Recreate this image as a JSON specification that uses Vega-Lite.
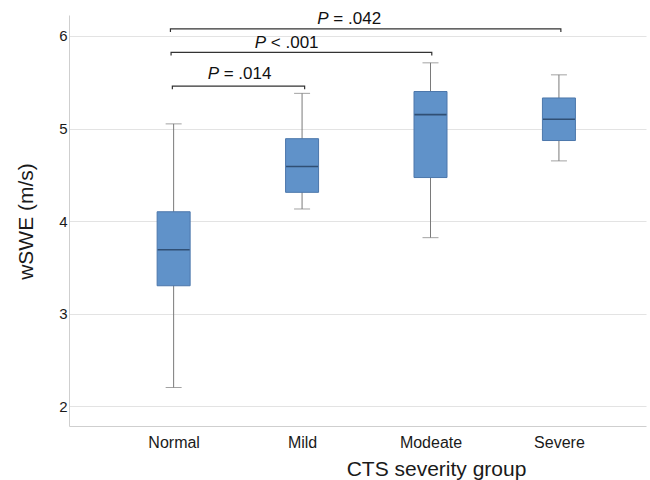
{
  "$schema": "https://vega.github.io/schema/vega-lite/v6.json",
  "width": 577,
  "height": 411,
  "autosize": {"type": "none"},
  "padding": {"left": 69, "top": 15, "right": 4, "bottom": 54},
  "background": "white",
  "config": {
    "view": {"stroke": null},
    "font": "Liberation Sans",
    "axis": {"labelFont": "Liberation Sans", "titleFont": "Liberation Sans", "labelColor": "#1a1a1a", "titleColor": "#1a1a1a", "titleFontWeight": "normal"}
  },
  "datasets": {
    "boxes": [
      {"group": "Normal", "g": 1, "min": 2.2, "q1": 3.3, "median": 3.69, "q3": 4.1, "max": 5.05},
      {"group": "Mild", "g": 2, "min": 4.13, "q1": 4.31, "median": 4.59, "q3": 4.89, "max": 5.38},
      {"group": "Modeate", "g": 3, "min": 3.82, "q1": 4.47, "median": 5.15, "q3": 5.4, "max": 5.71},
      {"group": "Severe", "g": 4, "min": 4.65, "q1": 4.87, "median": 5.1, "q3": 5.33, "max": 5.58}
    ],
    "brackets": [
      {"b": "a", "o": 1, "x": 0.99, "y": 5.425},
      {"b": "a", "o": 2, "x": 0.99, "y": 5.459},
      {"b": "a", "o": 3, "x": 2.02, "y": 5.459},
      {"b": "a", "o": 4, "x": 2.02, "y": 5.425},
      {"b": "b", "o": 1, "x": 0.98, "y": 5.79},
      {"b": "b", "o": 2, "x": 0.98, "y": 5.824},
      {"b": "b", "o": 3, "x": 3.01, "y": 5.824},
      {"b": "b", "o": 4, "x": 3.01, "y": 5.79},
      {"b": "c", "o": 1, "x": 0.975, "y": 6.042},
      {"b": "c", "o": 2, "x": 0.975, "y": 6.076},
      {"b": "c", "o": 3, "x": 4.015, "y": 6.076},
      {"b": "c", "o": 4, "x": 4.015, "y": 6.042}
    ],
    "labels": [
      {"rest": "= .014", "x": 1.265, "y": 5.538},
      {"rest": "< .001", "x": 1.632, "y": 5.874},
      {"rest": "= .042", "x": 2.119, "y": 6.13}
    ]
  },
  "layer": [
    {
      "data": {"name": "boxes"},
      "mark": {"type": "rule", "color": "#7a7a7a", "strokeWidth": 1},
      "encoding": {
        "x": {"field": "g", "type": "quantitative", "scale": {"domain": [0.2242, 4.639], "nice": false, "zero": false},
          "axis": {"values": [1, 2, 3, 4], "labelExpr": "['','Normal','Mild','Modeate','Severe'][datum.value]", "grid": false, "ticks": false, "tickSize": 0, "labelPadding": 21, "labelBaseline": "alphabetic", "labelFontSize": 16, "domainColor": "#cfcfcf", "title": "CTS severity group", "titleFontSize": 21, "titleX": 367, "titleY": 49, "titleBaseline": "alphabetic", "titleAlign": "center"}},
        "y": {"field": "min", "type": "quantitative", "scale": {"domain": [1.784, 6.227], "nice": false, "zero": false},
          "axis": {"values": [2, 3, 4, 5, 6], "format": "d", "grid": true, "gridColor": "#e3e3e3", "ticks": false, "tickSize": 0, "labelPadding": 2, "labelFontSize": 15, "domainColor": "#cfcfcf", "title": "wSWE (m/s)", "titleFontSize": 21, "titleAngle": -90, "titleX": -37, "titleY": 206, "titleBaseline": "alphabetic", "titleAlign": "center"}},
        "y2": {"field": "max"}
      }
    },
    {
      "data": {"name": "boxes"},
      "mark": {"type": "tick", "orient": "horizontal", "size": 16, "thickness": 1, "color": "#7a7a7a"},
      "encoding": {"x": {"field": "g", "type": "quantitative"}, "y": {"field": "min", "type": "quantitative"}}
    },
    {
      "data": {"name": "boxes"},
      "mark": {"type": "tick", "orient": "horizontal", "size": 16, "thickness": 1, "color": "#7a7a7a"},
      "encoding": {"x": {"field": "g", "type": "quantitative"}, "y": {"field": "max", "type": "quantitative"}}
    },
    {
      "data": {"name": "boxes"},
      "mark": {"type": "bar", "size": 33, "color": "#6092c9", "stroke": "#4c77ab", "strokeWidth": 1},
      "encoding": {"x": {"field": "g", "type": "quantitative"}, "y": {"field": "q1", "type": "quantitative"}, "y2": {"field": "q3"}}
    },
    {
      "data": {"name": "boxes"},
      "mark": {"type": "tick", "orient": "horizontal", "size": 32, "thickness": 1.6, "color": "#1c3350"},
      "encoding": {"x": {"field": "g", "type": "quantitative"}, "y": {"field": "median", "type": "quantitative"}}
    },
    {
      "data": {"name": "brackets"},
      "mark": {"type": "line", "color": "#333333", "strokeWidth": 1.2},
      "encoding": {"x": {"field": "x", "type": "quantitative"}, "y": {"field": "y", "type": "quantitative"}, "detail": {"field": "b"}, "order": {"field": "o"}}
    },
    {
      "data": {"name": "labels"},
      "mark": {"type": "text", "text": "P", "fontStyle": "italic", "fontSize": 17, "align": "left", "baseline": "alphabetic", "color": "#111111"},
      "encoding": {"x": {"field": "x", "type": "quantitative"}, "y": {"field": "y", "type": "quantitative"}}
    },
    {
      "data": {"name": "labels"},
      "mark": {"type": "text", "fontSize": 17, "align": "left", "baseline": "alphabetic", "dx": 16, "color": "#111111"},
      "encoding": {"x": {"field": "x", "type": "quantitative"}, "y": {"field": "y", "type": "quantitative"}, "text": {"field": "rest"}}
    }
  ]
}
